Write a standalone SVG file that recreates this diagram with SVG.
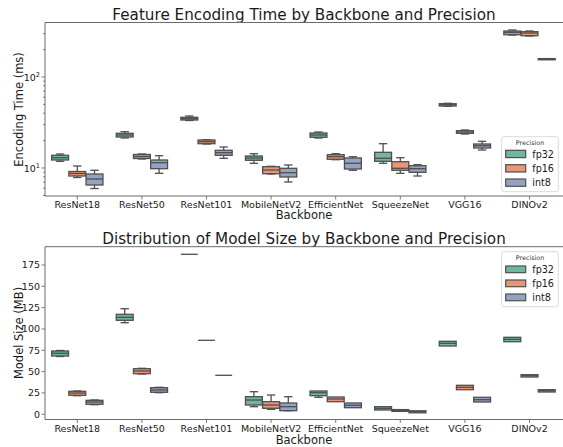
<svg xmlns="http://www.w3.org/2000/svg" width="563" height="447" viewBox="0 0 563 447">
<style>
text{font-family:"DejaVu Sans","Liberation Sans",sans-serif;fill:#1a1a1a}
.title{font-size:15.2px;text-anchor:middle}
.lab{font-size:11.5px;text-anchor:middle}
.tk{font-size:9.5px;text-anchor:middle}
.yt{font-size:9.5px;text-anchor:end}
.sup{font-size:6.6px}
.sp{stroke:#6b6b6b;stroke-width:1;fill:none}
.tm{stroke:#6b6b6b;stroke-width:0.9}
.b32{fill:#71b6a0}
.b16{fill:#e99675}
.bi8{fill:#95a3c3}
.bx rect{stroke:#4f4f4f;stroke-width:1.3}
.bx line{stroke:#4f4f4f;stroke-width:1.3}
.leg{fill:#fff;stroke:#d6d6d6;stroke-width:0.9}
.lt{font-size:6.4px;text-anchor:middle;fill:#333}
.ll{font-size:9.6px}
.lp{stroke:#4f4f4f;stroke-width:1.2}
</style>
<defs>
<g id="w"/>
</defs>

<!-- ============ TOP CHART ============ -->
<g id="top-chart">
<text class="title" x="304" y="20">Feature Encoding Time by Backbone and Precision</text>
<text class="lab" transform="translate(23,109.5) rotate(-90)">Encoding Time (ms)</text>
<text class="lab" x="304" y="219">Backbone</text>

<g id="top-yticks">
<line class="tm" x1="41.5" y1="77" x2="45" y2="77"/>
<line class="tm" x1="41.5" y1="168" x2="45" y2="168"/>
<g class="tm">
<line x1="43" y1="195.4" x2="45" y2="195.4"/>
<line x1="43" y1="188.2" x2="45" y2="188.2"/>
<line x1="43" y1="182.1" x2="45" y2="182.1"/>
<line x1="43" y1="176.8" x2="45" y2="176.8"/>
<line x1="43" y1="172.2" x2="45" y2="172.2"/>
<line x1="43" y1="140.6" x2="45" y2="140.6"/>
<line x1="43" y1="124.6" x2="45" y2="124.6"/>
<line x1="43" y1="113.2" x2="45" y2="113.2"/>
<line x1="43" y1="104.4" x2="45" y2="104.4"/>
<line x1="43" y1="97.2" x2="45" y2="97.2"/>
<line x1="43" y1="91.1" x2="45" y2="91.1"/>
<line x1="43" y1="85.8" x2="45" y2="85.8"/>
<line x1="43" y1="81.2" x2="45" y2="81.2"/>
<line x1="43" y1="49.6" x2="45" y2="49.6"/>
<line x1="43" y1="33.6" x2="45" y2="33.6"/>
</g>
<text class="yt" x="40" y="80.5">10<tspan class="sup" dy="-4">2</tspan></text>
<text class="yt" x="40" y="171.5">10<tspan class="sup" dy="-4">1</tspan></text>
</g>

<g id="top-xticks" class="tm">
<line x1="77.3" y1="196" x2="77.3" y2="199.5"/>
<line x1="141.9" y1="196" x2="141.9" y2="199.5"/>
<line x1="206.5" y1="196" x2="206.5" y2="199.5"/>
<line x1="271.1" y1="196" x2="271.1" y2="199.5"/>
<line x1="335.7" y1="196" x2="335.7" y2="199.5"/>
<line x1="400.3" y1="196" x2="400.3" y2="199.5"/>
<line x1="464.9" y1="196" x2="464.9" y2="199.5"/>
<line x1="529.5" y1="196" x2="529.5" y2="199.5"/>
</g>
<g id="top-xlabels">
<text class="tk" x="77.3" y="208">ResNet18</text>
<text class="tk" x="141.9" y="208">ResNet50</text>
<text class="tk" x="206.5" y="208">ResNet101</text>
<text class="tk" x="271.1" y="208">MobileNetV2</text>
<text class="tk" x="335.7" y="208">EfficientNet</text>
<text class="tk" x="400.3" y="208">SqueezeNet</text>
<text class="tk" x="464.9" y="208">VGG16</text>
<text class="tk" x="529.5" y="208">DINOv2</text>
</g>

<g id="top-boxes" class="bx">
<!-- ResNet18 -->
<g><line x1="60.1" y1="154" x2="60.1" y2="161.3"/><line x1="55.9" y1="154" x2="64.3" y2="154"/><line x1="55.9" y1="161.3" x2="64.3" y2="161.3"/><rect class="b32" x="51.65" y="155.3" width="16.9" height="4.7"/><line x1="51.65" y1="157.7" x2="68.55" y2="157.7"/></g>
<g><line x1="77.3" y1="166" x2="77.3" y2="177.5"/><line x1="73.1" y1="166" x2="81.5" y2="166"/><line x1="73.1" y1="177.5" x2="81.5" y2="177.5"/><rect class="b16" x="68.85" y="171.5" width="16.9" height="4.5"/><line x1="68.85" y1="173.5" x2="85.75" y2="173.5"/></g>
<g><line x1="94.5" y1="170.3" x2="94.5" y2="188.5"/><line x1="90.3" y1="170.3" x2="98.7" y2="170.3"/><line x1="90.3" y1="188.5" x2="98.7" y2="188.5"/><rect class="bi8" x="86.05" y="174" width="16.9" height="11"/><line x1="86.05" y1="179" x2="102.95" y2="179"/></g>
<!-- ResNet50 -->
<g><line x1="124.7" y1="131.7" x2="124.7" y2="138"/><line x1="120.5" y1="131.7" x2="128.9" y2="131.7"/><line x1="120.5" y1="138" x2="128.9" y2="138"/><rect class="b32" x="116.25" y="133.3" width="16.9" height="3.7"/><line x1="116.25" y1="135" x2="133.15" y2="135"/></g>
<g><line x1="141.9" y1="154" x2="141.9" y2="159"/><line x1="137.7" y1="154" x2="146.1" y2="154"/><line x1="137.7" y1="159" x2="146.1" y2="159"/><rect class="b16" x="133.45" y="154.5" width="16.9" height="4"/><line x1="133.45" y1="156.5" x2="150.35" y2="156.5"/></g>
<g><line x1="159.1" y1="155.7" x2="159.1" y2="173.3"/><line x1="154.9" y1="155.7" x2="163.3" y2="155.7"/><line x1="154.9" y1="173.3" x2="163.3" y2="173.3"/><rect class="bi8" x="150.65" y="160" width="16.9" height="8.7"/><line x1="150.65" y1="162.7" x2="167.55" y2="162.7"/></g>
<!-- ResNet101 -->
<g><line x1="189.3" y1="116" x2="189.3" y2="120.5"/><line x1="185.1" y1="116" x2="193.5" y2="116"/><line x1="185.1" y1="120.5" x2="193.5" y2="120.5"/><rect class="b32" x="180.85" y="117.3" width="16.9" height="2.7"/><line x1="180.85" y1="118.7" x2="197.75" y2="118.7"/></g>
<g><line x1="206.5" y1="139.7" x2="206.5" y2="144"/><line x1="202.3" y1="139.7" x2="210.7" y2="139.7"/><line x1="202.3" y1="144" x2="210.7" y2="144"/><rect class="b16" x="198.05" y="140" width="16.9" height="3.7"/><line x1="198.05" y1="141.7" x2="214.95" y2="141.7"/></g>
<g><line x1="223.7" y1="147" x2="223.7" y2="158.3"/><line x1="219.5" y1="147" x2="227.9" y2="147"/><line x1="219.5" y1="158.3" x2="227.9" y2="158.3"/><rect class="bi8" x="215.25" y="150.3" width="16.9" height="5"/><line x1="215.25" y1="152.7" x2="232.15" y2="152.7"/></g>
<!-- MobileNetV2 -->
<g><line x1="253.9" y1="153.7" x2="253.9" y2="163.3"/><line x1="249.7" y1="153.7" x2="258.1" y2="153.7"/><line x1="249.7" y1="163.3" x2="258.1" y2="163.3"/><rect class="b32" x="245.45" y="156" width="16.9" height="4.3"/><line x1="245.45" y1="158" x2="262.35" y2="158"/></g>
<g><line x1="271.1" y1="166.3" x2="271.1" y2="174"/><line x1="266.9" y1="166.3" x2="275.3" y2="166.3"/><line x1="266.9" y1="174" x2="275.3" y2="174"/><rect class="b16" x="262.65" y="166.7" width="16.9" height="7"/><line x1="262.65" y1="170" x2="279.55" y2="170"/></g>
<g><line x1="288.3" y1="165" x2="288.3" y2="182"/><line x1="284.1" y1="165" x2="292.5" y2="165"/><line x1="284.1" y1="182" x2="292.5" y2="182"/><rect class="bi8" x="279.85" y="168.3" width="16.9" height="8.7"/><line x1="279.85" y1="172.7" x2="296.75" y2="172.7"/></g>
<!-- EfficientNet -->
<g><line x1="318.5" y1="132" x2="318.5" y2="138"/><line x1="314.3" y1="132" x2="322.7" y2="132"/><line x1="314.3" y1="138" x2="322.7" y2="138"/><rect class="b32" x="310.05" y="133" width="16.9" height="4.3"/><line x1="310.05" y1="135" x2="326.95" y2="135"/></g>
<g><line x1="335.7" y1="153.7" x2="335.7" y2="159.7"/><line x1="331.5" y1="153.7" x2="339.9" y2="153.7"/><line x1="331.5" y1="159.7" x2="339.9" y2="159.7"/><rect class="b16" x="327.25" y="154.7" width="16.9" height="4.6"/><line x1="327.25" y1="156.7" x2="344.15" y2="156.7"/></g>
<g><line x1="352.9" y1="156.7" x2="352.9" y2="170.3"/><line x1="348.7" y1="156.7" x2="357.1" y2="156.7"/><line x1="348.7" y1="170.3" x2="357.1" y2="170.3"/><rect class="bi8" x="344.45" y="158" width="16.9" height="11"/><line x1="344.45" y1="163.3" x2="361.35" y2="163.3"/></g>
<!-- SqueezeNet -->
<g><line x1="383.1" y1="143.7" x2="383.1" y2="163.3"/><line x1="378.9" y1="143.7" x2="387.3" y2="143.7"/><line x1="378.9" y1="163.3" x2="387.3" y2="163.3"/><rect class="b32" x="374.65" y="152.3" width="16.9" height="9"/><line x1="374.65" y1="158.3" x2="391.55" y2="158.3"/></g>
<g><line x1="400.3" y1="157.7" x2="400.3" y2="173.3"/><line x1="396.1" y1="157.7" x2="404.5" y2="157.7"/><line x1="396.1" y1="173.3" x2="404.5" y2="173.3"/><rect class="b16" x="391.85" y="161.7" width="16.9" height="8.6"/><line x1="391.85" y1="168.3" x2="408.75" y2="168.3"/></g>
<g><line x1="417.5" y1="164.7" x2="417.5" y2="176"/><line x1="413.3" y1="164.7" x2="421.7" y2="164.7"/><line x1="413.3" y1="176" x2="421.7" y2="176"/><rect class="bi8" x="409.05" y="165.7" width="16.9" height="6.6"/><line x1="409.05" y1="168.7" x2="425.95" y2="168.7"/></g>
<!-- VGG16 -->
<g><line x1="447.7" y1="103.3" x2="447.7" y2="106.3"/><line x1="443.5" y1="103.3" x2="451.9" y2="103.3"/><line x1="443.5" y1="106.3" x2="451.9" y2="106.3"/><rect class="b32" x="439.25" y="103.7" width="16.9" height="2.3"/><line x1="439.25" y1="104.7" x2="456.15" y2="104.7"/></g>
<g><line x1="464.9" y1="130" x2="464.9" y2="134"/><line x1="460.7" y1="130" x2="469.1" y2="130"/><line x1="460.7" y1="134" x2="469.1" y2="134"/><rect class="b16" x="456.45" y="130.7" width="16.9" height="2.6"/><line x1="456.45" y1="132" x2="473.35" y2="132"/></g>
<g><line x1="482.1" y1="141.3" x2="482.1" y2="150"/><line x1="477.9" y1="141.3" x2="486.3" y2="141.3"/><line x1="477.9" y1="150" x2="486.3" y2="150"/><rect class="bi8" x="473.65" y="144" width="16.9" height="4"/><line x1="473.65" y1="145.7" x2="490.55" y2="145.7"/></g>
<!-- DINOv2 -->
<g><line x1="512.3" y1="30" x2="512.3" y2="35"/><line x1="508.1" y1="30" x2="516.5" y2="30"/><line x1="508.1" y1="35" x2="516.5" y2="35"/><rect class="b32" x="503.85" y="31" width="16.9" height="3.7"/><line x1="503.85" y1="32.3" x2="520.75" y2="32.3"/></g>
<g><line x1="529.5" y1="31" x2="529.5" y2="36"/><line x1="525.3" y1="31" x2="533.7" y2="31"/><line x1="525.3" y1="36" x2="533.7" y2="36"/><rect class="b16" x="521.05" y="31.7" width="16.9" height="4"/><line x1="521.05" y1="33" x2="537.95" y2="33"/></g>
<g><rect class="bi8" x="538.25" y="58.6" width="16.9" height="1.2"/><line x1="538.25" y1="59.2" x2="555.15" y2="59.2"/></g>
</g>

<path class="sp" d="M563,22.5 H45 V196 H563"/>

<g id="top-legend">
<rect class="leg" x="501.7" y="136.7" width="56.6" height="55" rx="2"/>
<text class="lt" x="530" y="144.5">Precision</text>
<rect class="lp b32" x="505.7" y="150.3" width="20" height="7.3"/>
<rect class="lp b16" x="505.7" y="164.7" width="20" height="7.3"/>
<rect class="lp bi8" x="505.7" y="179" width="20" height="7.3"/>
<text class="ll" x="532.3" y="157.5">fp32</text>
<text class="ll" x="532.3" y="171.8">fp16</text>
<text class="ll" x="532.3" y="186.1">int8</text>
</g>
</g>

<!-- ============ BOTTOM CHART ============ -->
<g id="bottom-chart">
<text class="title" x="304" y="244">Distribution of Model Size by Backbone and Precision</text>
<text class="lab" transform="translate(23,333) rotate(-90)">Model Size (MB)</text>
<text class="lab" x="304" y="443.5">Backbone</text>

<g id="bottom-yticks">
<g class="tm">
<line x1="41.5" y1="414.3" x2="45" y2="414.3"/>
<line x1="41.5" y1="392.9" x2="45" y2="392.9"/>
<line x1="41.5" y1="371.6" x2="45" y2="371.6"/>
<line x1="41.5" y1="350.3" x2="45" y2="350.3"/>
<line x1="41.5" y1="329" x2="45" y2="329"/>
<line x1="41.5" y1="307.7" x2="45" y2="307.7"/>
<line x1="41.5" y1="286.3" x2="45" y2="286.3"/>
<line x1="41.5" y1="265" x2="45" y2="265"/>
</g>
<text class="yt" x="40" y="417.7">0</text>
<text class="yt" x="40" y="396.3">25</text>
<text class="yt" x="40" y="375">50</text>
<text class="yt" x="40" y="353.7">75</text>
<text class="yt" x="40" y="332.4">100</text>
<text class="yt" x="40" y="311.1">125</text>
<text class="yt" x="40" y="289.7">150</text>
<text class="yt" x="40" y="268.4">175</text>
</g>

<g id="bottom-xticks" class="tm">
<line x1="77.3" y1="419.5" x2="77.3" y2="423"/>
<line x1="141.9" y1="419.5" x2="141.9" y2="423"/>
<line x1="206.5" y1="419.5" x2="206.5" y2="423"/>
<line x1="271.1" y1="419.5" x2="271.1" y2="423"/>
<line x1="335.7" y1="419.5" x2="335.7" y2="423"/>
<line x1="400.3" y1="419.5" x2="400.3" y2="423"/>
<line x1="464.9" y1="419.5" x2="464.9" y2="423"/>
<line x1="529.5" y1="419.5" x2="529.5" y2="423"/>
</g>
<g id="bottom-xlabels">
<text class="tk" x="77.3" y="431.5">ResNet18</text>
<text class="tk" x="141.9" y="431.5">ResNet50</text>
<text class="tk" x="206.5" y="431.5">ResNet101</text>
<text class="tk" x="271.1" y="431.5">MobileNetV2</text>
<text class="tk" x="335.7" y="431.5">EfficientNet</text>
<text class="tk" x="400.3" y="431.5">SqueezeNet</text>
<text class="tk" x="464.9" y="431.5">VGG16</text>
<text class="tk" x="529.5" y="431.5">DINOv2</text>
</g>

<g id="bottom-boxes" class="bx">
<!-- ResNet18 -->
<g><line x1="60.1" y1="350.5" x2="60.1" y2="356.5"/><line x1="55.9" y1="350.5" x2="64.3" y2="350.5"/><line x1="55.9" y1="356.5" x2="64.3" y2="356.5"/><rect class="b32" x="51.65" y="351" width="16.9" height="5"/><line x1="51.65" y1="353.3" x2="68.55" y2="353.3"/></g>
<g><line x1="77.3" y1="391" x2="77.3" y2="395.7"/><line x1="73.1" y1="391" x2="81.5" y2="391"/><line x1="73.1" y1="395.7" x2="81.5" y2="395.7"/><rect class="b16" x="68.85" y="391.3" width="16.9" height="4"/><line x1="68.85" y1="393" x2="85.75" y2="393"/></g>
<g><line x1="94.5" y1="400" x2="94.5" y2="404.7"/><line x1="90.3" y1="400" x2="98.7" y2="400"/><line x1="90.3" y1="404.7" x2="98.7" y2="404.7"/><rect class="bi8" x="86.05" y="400.3" width="16.9" height="4"/><line x1="86.05" y1="402" x2="102.95" y2="402"/></g>
<!-- ResNet50 -->
<g><line x1="124.7" y1="308.7" x2="124.7" y2="322.7"/><line x1="120.5" y1="308.7" x2="128.9" y2="308.7"/><line x1="120.5" y1="322.7" x2="128.9" y2="322.7"/><rect class="b32" x="116.25" y="314.3" width="16.9" height="6"/><line x1="116.25" y1="317.3" x2="133.15" y2="317.3"/></g>
<g><line x1="141.9" y1="368.3" x2="141.9" y2="374"/><line x1="137.7" y1="368.3" x2="146.1" y2="368.3"/><line x1="137.7" y1="374" x2="146.1" y2="374"/><rect class="b16" x="133.45" y="368.7" width="16.9" height="5"/><line x1="133.45" y1="371" x2="150.35" y2="371"/></g>
<g><line x1="159.1" y1="387.3" x2="159.1" y2="392.7"/><line x1="154.9" y1="387.3" x2="163.3" y2="387.3"/><line x1="154.9" y1="392.7" x2="163.3" y2="392.7"/><rect class="bi8" x="150.65" y="387.7" width="16.9" height="4.6"/><line x1="150.65" y1="390" x2="167.55" y2="390"/></g>
<!-- ResNet101 -->
<g><line x1="180.85" y1="254.3" x2="197.75" y2="254.3"/></g>
<g><line x1="198.05" y1="340.3" x2="214.95" y2="340.3"/></g>
<g><line x1="215.25" y1="375.3" x2="232.15" y2="375.3"/></g>
<!-- MobileNetV2 -->
<g><line x1="253.9" y1="391.7" x2="253.9" y2="406.7"/><line x1="249.7" y1="391.7" x2="258.1" y2="391.7"/><line x1="249.7" y1="406.7" x2="258.1" y2="406.7"/><rect class="b32" x="245.45" y="396.7" width="16.9" height="8.3"/><line x1="245.45" y1="400" x2="262.35" y2="400"/></g>
<g><line x1="271.1" y1="395" x2="271.1" y2="409.3"/><line x1="266.9" y1="395" x2="275.3" y2="395"/><line x1="266.9" y1="409.3" x2="275.3" y2="409.3"/><rect class="b16" x="262.65" y="401.7" width="16.9" height="6.6"/><line x1="262.65" y1="405" x2="279.55" y2="405"/></g>
<g><line x1="288.3" y1="396.7" x2="288.3" y2="410.7"/><line x1="284.1" y1="396.7" x2="292.5" y2="396.7"/><line x1="284.1" y1="410.7" x2="292.5" y2="410.7"/><rect class="bi8" x="279.85" y="403" width="16.9" height="7.7"/><line x1="279.85" y1="406.7" x2="296.75" y2="406.7"/></g>
<!-- EfficientNet -->
<g><line x1="318.5" y1="391" x2="318.5" y2="397.3"/><line x1="314.3" y1="397.3" x2="322.7" y2="397.3"/><rect class="b32" x="310.05" y="391" width="16.9" height="4.7"/><line x1="310.05" y1="392.7" x2="326.95" y2="392.7"/></g>
<g><line x1="335.7" y1="397" x2="335.7" y2="402"/><rect class="b16" x="327.25" y="397" width="16.9" height="4.7"/><line x1="327.25" y1="399" x2="344.15" y2="399"/></g>
<g><line x1="352.9" y1="403" x2="352.9" y2="408"/><rect class="bi8" x="344.45" y="403" width="16.9" height="4.7"/><line x1="344.45" y1="405.3" x2="361.35" y2="405.3"/></g>
<!-- SqueezeNet -->
<g><rect class="b32" x="374.65" y="406.7" width="16.9" height="3.3"/><line x1="374.65" y1="408.3" x2="391.55" y2="408.3"/></g>
<g><rect class="b16" x="391.85" y="409.6" width="16.9" height="1.8"/><line x1="391.85" y1="410.5" x2="408.75" y2="410.5"/></g>
<g><rect class="bi8" x="409.05" y="410.8" width="16.9" height="2"/><line x1="409.05" y1="411.7" x2="425.95" y2="411.7"/></g>
<!-- VGG16 -->
<g><rect class="b32" x="439.25" y="341.3" width="16.9" height="4.7"/><line x1="439.25" y1="343.3" x2="456.15" y2="343.3"/></g>
<g><rect class="b16" x="456.45" y="385.3" width="16.9" height="4.4"/><line x1="456.45" y1="387.3" x2="473.35" y2="387.3"/></g>
<g><rect class="bi8" x="473.65" y="397.3" width="16.9" height="4.7"/><line x1="473.65" y1="399.7" x2="490.55" y2="399.7"/></g>
<!-- DINOv2 -->
<g><rect class="b32" x="503.85" y="337.3" width="16.9" height="4.4"/><line x1="503.85" y1="339.3" x2="520.75" y2="339.3"/></g>
<g><rect class="b16" x="521.05" y="374.7" width="16.9" height="2.3"/><line x1="521.05" y1="375.7" x2="537.95" y2="375.7"/></g>
<g><rect class="bi8" x="538.25" y="389.7" width="16.9" height="2.3"/><line x1="538.25" y1="390.7" x2="555.15" y2="390.7"/></g>
</g>

<path class="sp" d="M563,246.7 H45 V419.5 H563"/>

<g id="bottom-legend">
<rect class="leg" x="501.7" y="251.7" width="56.6" height="55" rx="2"/>
<text class="lt" x="530" y="259.8">Precision</text>
<rect class="lp b32" x="505.7" y="266" width="20" height="6.7"/>
<rect class="lp b16" x="505.7" y="280" width="20" height="6.7"/>
<rect class="lp bi8" x="505.7" y="294" width="20" height="6.7"/>
<text class="ll" x="532.3" y="272.9">fp32</text>
<text class="ll" x="532.3" y="286.9">fp16</text>
<text class="ll" x="532.3" y="300.9">int8</text>
</g>
</g>
</svg>
